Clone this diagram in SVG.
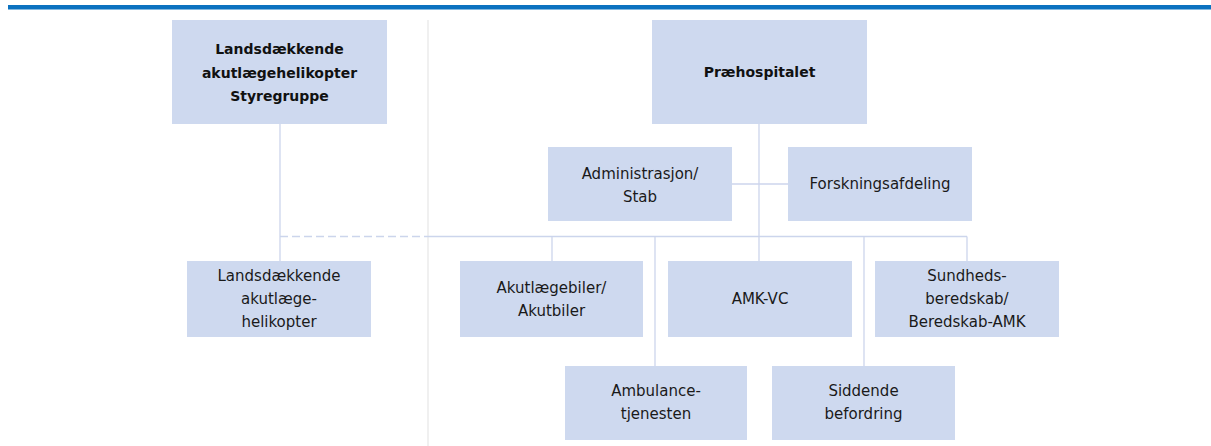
<svg xmlns="http://www.w3.org/2000/svg" width="1211" height="446" viewBox="0 0 1211 446">
<style>
.box{fill:#CED9EF;}
.ln{stroke:#CCD5EC;stroke-width:1.3;fill:none;}
.t{font-family:"DejaVu Sans",sans-serif;font-size:15px;fill:#1a1a1a;text-anchor:middle;}
.b{font-family:"DejaVu Sans",sans-serif;font-size:14px;font-weight:bold;fill:#111;text-anchor:middle;}
</style>
<rect x="0" y="0" width="1211" height="446" fill="#ffffff"/>
<rect x="8" y="5" width="1203" height="4.5" fill="#0B72C0"/>
<line x1="428" y1="20" x2="428" y2="446" stroke="#E8E8E8" stroke-width="1.3"/>
<g id="connectors">
<line class="ln" x1="280" y1="124" x2="280" y2="261"/>
<line class="ln" x1="280" y1="236.5" x2="428" y2="236.5" stroke-dasharray="8,4"/>
<line class="ln" x1="428" y1="236.5" x2="967" y2="236.5"/>
<line class="ln" x1="759" y1="124" x2="759" y2="261"/>
<line class="ln" x1="732" y1="184" x2="788" y2="184"/>
<line class="ln" x1="552" y1="236.5" x2="552" y2="261"/>
<line class="ln" x1="655" y1="236.5" x2="655" y2="366"/>
<line class="ln" x1="864" y1="236.5" x2="864" y2="366"/>
<line class="ln" x1="967" y1="236.5" x2="967" y2="261"/>
</g>
<g id="styregruppe">
<rect class="box" x="172" y="20" width="215" height="104"/>
<text class="b" x="279.5" y="54">Landsdækkende</text>
<text class="b" x="279.5" y="77.5">akutlægehelikopter</text>
<text class="b" x="279.5" y="101">Styregruppe</text>
</g>
<g id="praehospitalet">
<rect class="box" x="652" y="20" width="215" height="104"/>
<text class="b" x="759.5" y="77">Præhospitalet</text>
</g>
<g id="administrasjon">
<rect class="box" x="548" y="147" width="184" height="74"/>
<text class="t" x="640" y="179">Administrasjon/</text>
<text class="t" x="640" y="202">Stab</text>
</g>
<g id="forskning">
<rect class="box" x="788" y="147" width="184" height="74"/>
<text class="t" x="880" y="189">Forskningsafdeling</text>
</g>
<g id="helikopter">
<rect class="box" x="187" y="261" width="184" height="76"/>
<text class="t" x="279" y="281">Landsdækkende</text>
<text class="t" x="279" y="304">akutlæge-</text>
<text class="t" x="279" y="327">helikopter</text>
</g>
<g id="akutlaegebiler">
<rect class="box" x="460" y="261" width="183" height="76"/>
<text class="t" x="551.5" y="293">Akutlægebiler/</text>
<text class="t" x="551.5" y="316">Akutbiler</text>
</g>
<g id="amkvc">
<rect class="box" x="668" y="261" width="184" height="76"/>
<text class="t" x="760" y="304">AMK-VC</text>
</g>
<g id="sundhedsberedskab">
<rect class="box" x="875" y="261" width="184" height="76"/>
<text class="t" x="967" y="281">Sundheds-</text>
<text class="t" x="967" y="304">beredskab/</text>
<text class="t" x="967" y="327">Beredskab-AMK</text>
</g>
<g id="ambulance">
<rect class="box" x="565" y="366" width="182" height="74"/>
<text class="t" x="656" y="396">Ambulance-</text>
<text class="t" x="656" y="419">tjenesten</text>
</g>
<g id="siddende">
<rect class="box" x="772" y="366" width="183" height="74"/>
<text class="t" x="863.5" y="396">Siddende</text>
<text class="t" x="863.5" y="419">befordring</text>
</g>
</svg>
